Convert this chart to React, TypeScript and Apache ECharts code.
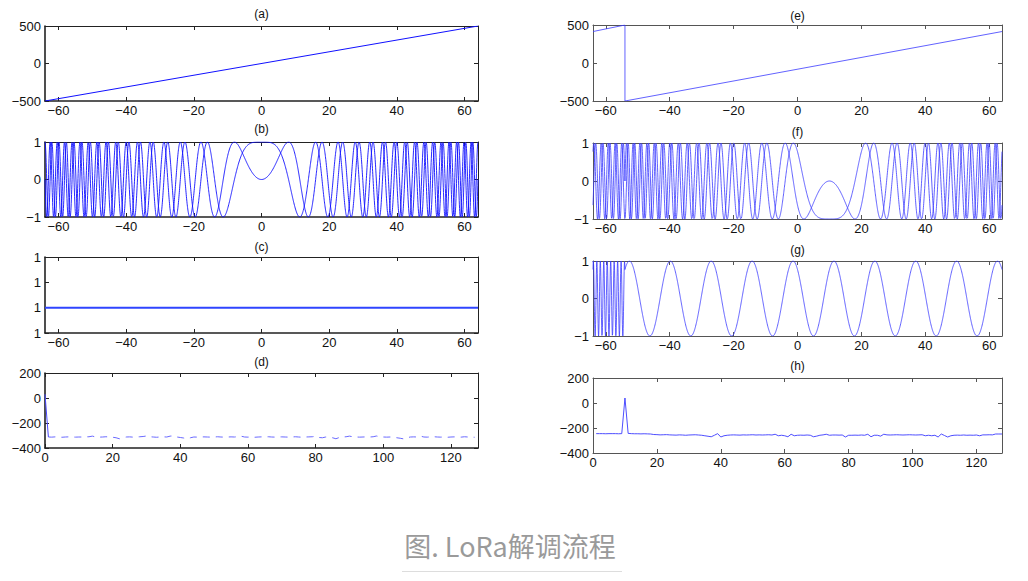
import { useEffect, useRef } from "react";
import * as echarts from "echarts";

// ---- data ----
const N = 128; // chirp length (symbols span -64..64)
const SHIFT = 10; // symbol value of the received chirp (peak bin in (h))
const STEP = 0.05;
const TICKS_T = [-60, -40, -20, 0, 20, 40, 60];
const TICKS_BIN = [0, 20, 40, 60, 80, 100, 120];
const PANEL_TITLES = ["(a)", "(b)", "(c)", "(d)", "(e)", "(f)", "(g)", "(h)"];
const CAPTION = "图. LoRa解调流程";

const freqA = [
  [-64, -500],
  [64, 500],
];
const freqE = [
  [-64, 414],
  [-54, 500],
  [-54, -500],
  [64, 414],
];
const magC = [
  [-64, 1],
  [64, 1],
];
const fftD = [
  30, -312, -313, -311, -312, -314, -312, -311, -312, -313,
  -312, -312, -311, -310, -305, -312, -313, -312, -310, -312,
  -314, -318, -326, -318, -312, -311, -313, -312, -310, -308,
  -304, -310, -312, -314, -312, -311, -312, -305, -303, -312,
  -316, -320, -327, -318, -312, -313, -312, -311, -312, -313,
  -312, -310, -312, -313, -312, -311, -312, -310, -306, -312,
  -313, -312, -314, -312, -311, -312, -310, -312, -313, -312,
  -311, -312, -313, -312, -310, -312, -314, -312, -311, -310,
  -306, -316, -318, -312, -313, -318, -326, -316, -312, -310,
  -305, -310, -312, -313, -312, -311, -312, -310, -304, -310,
  -312, -313, -312, -314, -318, -322, -327, -318, -312, -311,
  -312, -305, -312, -313, -311, -310, -312, -313, -312, -314,
  -312, -311, -312, -313, -310, -312, -313, -314,
];
const fftH = [
  -245, -245, -245, -246, -245, -245, -245, -246, -245, 40,
  -243, -245, -246, -246, -247, -246, -247, -248, -252, -253,
  -255, -254, -253, -255, -256, -257, -255, -256, -258, -256,
  -255, -254, -256, -258, -262, -266, -270, -258, -245, -272,
  -262, -258, -256, -255, -256, -257, -255, -256, -255, -254,
  -256, -255, -256, -255, -254, -256, -250, -262, -258, -262,
  -270, -250, -262, -258, -257, -258, -256, -258, -270, -265,
  -258, -255, -250, -258, -256, -256, -257, -256, -272, -258,
  -258, -257, -258, -256, -258, -250, -270, -258, -258, -265,
  -250, -255, -256, -255, -254, -255, -256, -255, -254, -255,
  -256, -255, -254, -262, -258, -262, -258, -272, -248, -260,
  -272, -262, -258, -257, -258, -256, -258, -257, -258, -256,
  -262, -255, -255, -254, -255, -248, -248, -248,
];

// chirp waveforms (up-chirp, shifted received chirp, and dechirped product)
const ts: number[] = [];
for (let i = 0; i <= Math.round(N / STEP); i++) ts.push(-N / 2 + i * STEP);
const wrap = (t: number) => (t >= SHIFT - N / 2 ? t - SHIFT : t - SHIFT + N);
const bRe = ts.map((t) => [t, Math.cos((Math.PI * t * t) / N)]);
const bIm = ts.map((t) => [t, Math.sin((Math.PI * t * t) / N)]);
const fRe = ts.map((t) => [t, -Math.cos((Math.PI * wrap(t) ** 2) / N)]);
const fIm = ts.map((t) => [t, -Math.sin((Math.PI * wrap(t) ** 2) / N)]);
const gRe = ts.map((t) => [t, -Math.cos((Math.PI * (wrap(t) ** 2 - t * t)) / N)]);
const dData = fftD.map((v, i) => [i, v]);
const hData = fftH.map((v, i) => [i + 1, v]);

const FONT = "'Liberation Sans', Arial, Helvetica, sans-serif";
const fmt = (v: number) => String(v).replace("-", "\u2212");

type G = { left: number; top: number; width: number; height: number };
const GRIDS: G[] = [
  { left: 45, top: 26, width: 433, height: 75 },
  { left: 45, top: 142, width: 433, height: 75 },
  { left: 45, top: 257, width: 433, height: 76 },
  { left: 45, top: 373, width: 433, height: 75 },
  { left: 593, top: 25, width: 409, height: 76 },
  { left: 593, top: 143, width: 409, height: 76 },
  { left: 593, top: 261, width: 409, height: 75 },
  { left: 593, top: 378, width: 409, height: 75 },
];
const TITLE_Y = [14, 129, 247, 362, 16, 132, 250, 366];

function xPair(gi: number, min: number, max: number, ticks: number[], left: boolean) {
  const c = left ? "#222" : "#555";
  const tick = { show: true, inside: true, length: 4, customValues: ticks, lineStyle: { color: c, width: 1 } };
  return [
    {
      type: "value", gridIndex: gi, position: "bottom", min, max,
      axisLine: { show: true, onZero: false, lineStyle: { color: c, width: left ? 1.6 : 1 } },
      axisTick: tick,
      axisLabel: { customValues: ticks, formatter: fmt, fontSize: 13, color: "#111", margin: 3, fontFamily: FONT },
      splitLine: { show: false },
    },
    {
      type: "value", gridIndex: gi, position: "top", min, max,
      axisLine: { show: true, onZero: false, lineStyle: { color: c, width: 1 } },
      axisTick: tick,
      axisLabel: { show: false },
      splitLine: { show: false },
    },
  ];
}

function yPair(gi: number, min: number, max: number, interval: number, left: boolean, fixed?: string) {
  const c = left ? "#222" : "#555";
  const tick = { show: true, inside: true, length: 4, lineStyle: { color: c, width: 1 } };
  return [
    {
      type: "value", gridIndex: gi, position: "left", min, max, interval,
      axisLine: { show: true, onZero: false, lineStyle: { color: c, width: left ? 1.6 : 1 } },
      axisTick: tick,
      axisLabel: {
        formatter: fixed ? () => fixed : fmt, fontSize: 13, color: "#111", margin: 4, fontFamily: FONT,
        showMinLabel: true, showMaxLabel: true,
      },
      splitLine: { show: false },
    },
    {
      type: "value", gridIndex: gi, position: "right", min, max, interval,
      axisLine: { show: true, onZero: false, lineStyle: { color: c, width: 1 } },
      axisTick: tick,
      axisLabel: { show: false },
      splitLine: { show: false },
    },
  ];
}

function line(gi: number, data: number[][], color: string, width = 0.9, extra: any = {}) {
  return {
    type: "line", xAxisIndex: gi * 2, yAxisIndex: gi * 2, data,
    showSymbol: false, symbol: "none", sampling: undefined, silent: true,
    lineStyle: { color, width, ...extra },
    z: 3,
  };
}

export default function App() {
  const ref = useRef<HTMLDivElement>(null);
  useEffect(() => {
    document.body.style.margin = "0";
    const chart = echarts.init(ref.current!, undefined, { renderer: "svg", width: 1028, height: 581 });
    const xAxis = [
      ...xPair(0, -64, 64, TICKS_T, true),
      ...xPair(1, -64, 64, TICKS_T, true),
      ...xPair(2, -64, 64, TICKS_T, true),
      ...xPair(3, 0, 128, TICKS_BIN, true),
      ...xPair(4, -64, 64, TICKS_T, false),
      ...xPair(5, -64, 64, TICKS_T, false),
      ...xPair(6, -64, 64, TICKS_T, false),
      ...xPair(7, 0, 128, TICKS_BIN, false),
    ];
    const yAxis = [
      ...yPair(0, -500, 500, 500, true),
      ...yPair(1, -1, 1, 1, true),
      ...yPair(2, 0, 3, 1, true, "1"),
      ...yPair(3, -400, 200, 200, true),
      ...yPair(4, -500, 500, 500, false),
      ...yPair(5, -1, 1, 1, false),
      ...yPair(6, -1, 1, 1, false),
      ...yPair(7, -400, 200, 200, false),
    ];
    const blue = "#1010ff";
    const lblue = "#3a3aff";
    const series = [
      line(0, freqA, blue, 1),
      line(1, bRe, blue, 0.9),
      line(1, bIm, blue, 0.9),
      line(2, magC, "#2f45ff", 2),
      line(3, dData.slice(0, 2), "#4a4aff", 1),
      line(3, dData.slice(1), "#6a6aff", 1, { type: [7, 6] }),
      line(4, freqE, lblue, 0.8),
      line(5, fRe, lblue, 0.8),
      line(5, fIm, lblue, 0.8),
      line(6, gRe, lblue, 0.8),
      line(7, hData, lblue, 0.9),
    ];
    const graphic: any[] = PANEL_TITLES.map((t, i) => ({
      type: "text",
      x: GRIDS[i].left + GRIDS[i].width / 2,
      y: TITLE_Y[i],
      style: { text: t, fontSize: 12, fontFamily: FONT, fill: "#111", align: "center", verticalAlign: "middle" },
    }));
    graphic.push({
      type: "text",
      x: 510,
      y: 545,
      style: {
        text: CAPTION, fontSize: 27, fontFamily: "'Noto Sans CJK SC', 'Noto Sans', sans-serif",
        fill: "#9a9a9a", align: "center", verticalAlign: "middle",
      },
    });
    graphic.push({
      type: "line",
      shape: { x1: 402, y1: 571.5, x2: 622, y2: 571.5 },
      style: { stroke: "#dddddd", lineWidth: 1 },
    });
    chart.setOption({
      animation: false,
      backgroundColor: "#ffffff",
      grid: GRIDS.map((g) => ({ ...g, containLabel: false })),
      xAxis,
      yAxis,
      series,
      graphic,
    });
    return () => chart.dispose();
  }, []);
  return <div ref={ref} style={{ width: 1028, height: 581 }} />;
}
